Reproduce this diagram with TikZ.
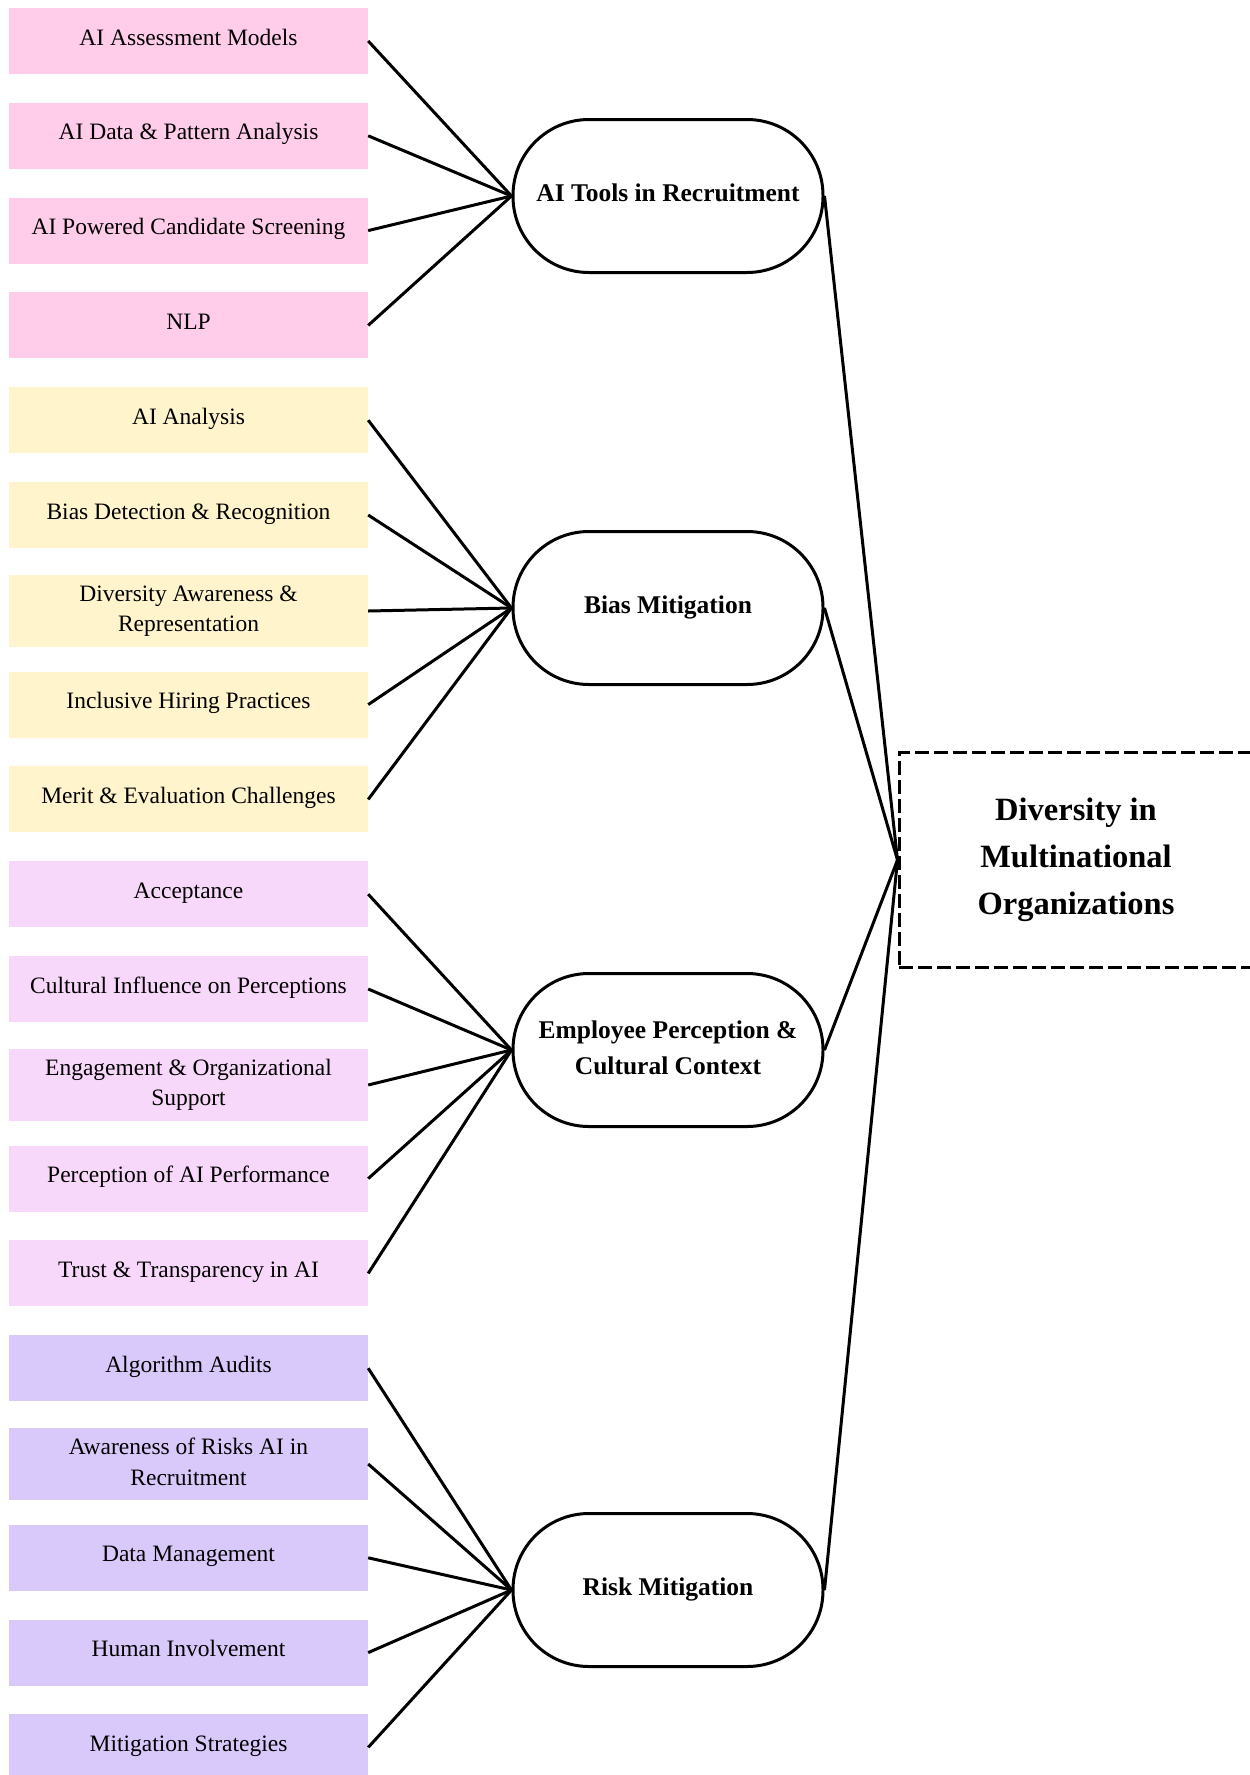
\documentclass[tikz,border=0pt]{standalone}
\usepackage{fontspec}
\setmainfont{Liberation Serif}

\definecolor{toolpink}{HTML}{FFCCEA}
\definecolor{biasyellow}{HTML}{FFF4CC}
\definecolor{percplum}{HTML}{F8D8FA}
\definecolor{riskviolet}{HTML}{D9C8FA}

\tikzset{
    leafbase/.style = {fill=#1, minimum width=359pt, minimum height=66pt, inner xsep=0pt,
                       inner ysep=10.3pt, align=center, font=\fontsize{23.5}{30.5}\selectfont},
    leaf/.style = {leafbase=#1, text height=16pt, text depth=8pt},
    leaftwo/.style = {leafbase=#1, execute at end node=\vphantom{p}},
    themebase/.style = {draw, line width=3pt, rounded corners=76pt, minimum width=310pt,
                        minimum height=153pt, inner sep=0pt, align=center,
                        font=\fontsize{25.5}{36}\selectfont\bfseries},
    theme/.style = {themebase, text height=17.5pt, text depth=7pt},
    themetwo/.style = {themebase, execute at end node=\vphantom{p}},
    core/.style = {draw, dash pattern=on 14pt off 5pt, line width=3pt, minimum width=354pt,
                   minimum height=215pt, inner sep=0pt, align=center,
                   font=\fontsize{32.5}{47}\selectfont\bfseries},
    link/.style = {line width=3pt}
}

\begin{document}
\begin{tikzpicture}[x=1pt, y=-1pt]
    \useasboundingbox (0,0) rectangle (1250,1775);

    % left column
    \node[leaf=toolpink]      (t1) at (188.5,41)     {AI Assessment Models};
    \node[leaf=toolpink]      (t2) at (188.5,135.8)  {AI Data \& Pattern Analysis};
    \node[leaf=toolpink]      (t3) at (188.5,230.6)  {AI Powered Candidate Screening};
    \node[leaf=toolpink]      (t4) at (188.5,325.4)  {NLP};
    \node[leaf=biasyellow]    (b1) at (188.5,420.2)  {AI Analysis};
    \node[leaf=biasyellow]    (b2) at (188.5,515)    {Bias Detection \& Recognition};
    \node[leaftwo=biasyellow] (b3) at (188.5,611)    {Diversity Awareness \&\\Representation};
    \node[leaf=biasyellow]    (b4) at (188.5,704.6)  {Inclusive Hiring Practices};
    \node[leaf=biasyellow]    (b5) at (188.5,799.4)  {Merit \& Evaluation Challenges};
    \node[leaf=percplum]      (p1) at (188.5,894.2)  {Acceptance};
    \node[leaf=percplum]      (p2) at (188.5,989)    {Cultural Influence on Perceptions};
    \node[leaftwo=percplum]   (p3) at (188.5,1085)   {Engagement \& Organizational\\Support};
    \node[leaf=percplum]      (p4) at (188.5,1178.6) {Perception of AI Performance};
    \node[leaf=percplum]      (p5) at (188.5,1273.4) {Trust \& Transparency in AI};
    \node[leaf=riskviolet]    (r1) at (188.5,1368.2) {Algorithm Audits};
    \node[leaftwo=riskviolet] (r2) at (188.5,1464)   {Awareness of Risks AI in\\Recruitment};
    \node[leaf=riskviolet]    (r3) at (188.5,1557.8) {Data Management};
    \node[leaf=riskviolet]    (r4) at (188.5,1652.6) {Human Involvement};
    \node[leaf=riskviolet]    (r5) at (188.5,1747.4) {Mitigation Strategies};

    % middle column
    \node[theme]    (tools) at (668,196)  {AI Tools in Recruitment};
    \node[theme]    (bias)  at (668,608)  {Bias Mitigation};
    \node[themetwo] (perc)  at (668,1050) {Employee Perception \&\\Cultural Context};
    \node[theme]    (risk)  at (668,1590) {Risk Mitigation};

    % right
    \node[core] (div) at (1076,860) {Diversity in\\Multinational\\Organizations};

    \foreach \n in {t1,t2,t3,t4}
        \draw[link] (\n.east) -- (tools.west);
    \foreach \n in {b1,b2,b3,b4,b5}
        \draw[link] (\n.east) -- (bias.west);
    \foreach \n in {p1,p2,p3,p4,p5}
        \draw[link] (\n.east) -- (perc.west);
    \foreach \n in {r1,r2,r3,r4,r5}
        \draw[link] (\n.east) -- (risk.west);
    \foreach \n in {tools,bias,perc,risk}
        \draw[link] (\n.east) -- (div.west);
\end{tikzpicture}
\end{document}
